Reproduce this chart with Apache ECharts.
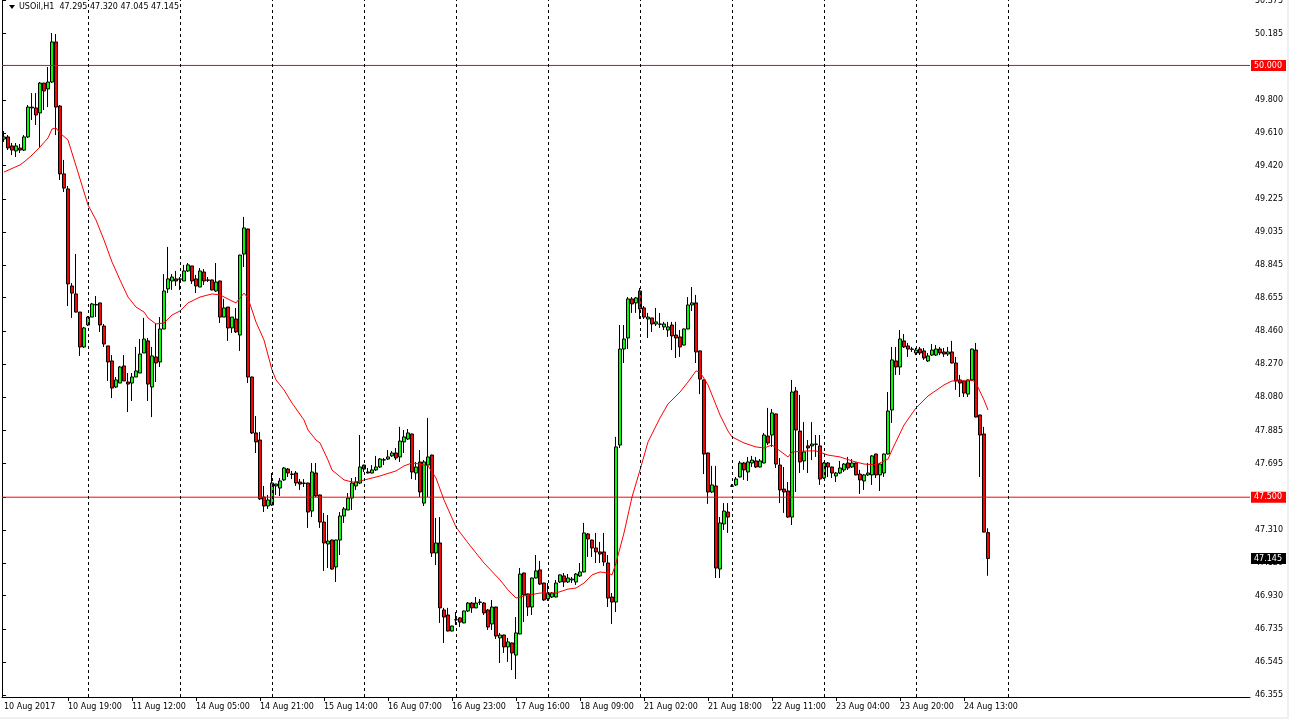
<!DOCTYPE html>
<html><head><meta charset="utf-8">
<script src="https://cdn.jsdelivr.net/npm/echarts@6/dist/echarts.min.js"></script>
<style>html,body{margin:0;padding:0;background:#fff;overflow:hidden}#c{width:1289px;height:719px}</style>
</head><body><div id="c"></div>
<script>
const symbolTitle = 'USOil,H1  47.295 47.320 47.045 47.145';
const opens = [49.574,49.586,49.534,49.505,49.522,49.510,49.586,49.754,49.754,49.725,49.898,49.864,49.904,50.136,49.765,49.372,49.285,48.723,48.677,48.572,48.370,48.497,48.543,48.613,48.625,48.491,48.376,48.289,48.138,48.161,48.260,48.167,48.161,48.196,48.219,48.335,48.405,48.138,48.312,48.283,48.474,48.706,48.752,48.764,48.764,48.752,48.810,48.839,48.764,48.717,48.804,48.758,48.758,48.694,48.752,48.543,48.601,48.480,48.532,48.439,48.908,49.053,48.196,47.872,47.831,47.501,47.449,47.455,47.565,47.553,47.600,47.663,47.634,47.640,47.588,47.582,47.582,47.420,47.640,47.513,47.356,47.229,47.252,47.096,47.252,47.391,47.426,47.495,47.565,47.582,47.686,47.646,47.640,47.658,47.675,47.715,47.721,47.739,47.756,47.733,47.820,47.837,47.866,47.640,47.704,47.466,47.686,47.744,47.177,47.235,46.847,46.818,46.725,46.789,46.801,46.772,46.841,46.887,46.859,46.893,46.887,46.847,46.766,46.864,46.685,46.702,46.633,46.656,46.586,46.708,47.061,46.940,46.864,47.032,47.079,47.003,46.911,46.922,46.922,47.009,47.044,47.009,47.021,47.009,47.044,47.067,47.287,47.252,47.206,47.183,47.183,47.119,46.922,46.893,47.802,48.358,48.422,48.648,48.625,48.694,48.596,48.532,48.538,48.503,48.503,48.486,48.468,48.497,48.439,48.428,48.381,48.474,48.613,48.625,48.347,48.179,47.756,47.530,47.565,47.084,47.345,47.414,47.565,47.571,47.617,47.698,47.646,47.698,47.710,47.675,47.698,47.854,47.860,47.982,47.686,47.547,47.536,47.385,48.115,47.883,47.710,47.797,47.797,47.808,47.797,47.611,47.698,47.675,47.623,47.640,47.658,47.698,47.675,47.698,47.634,47.594,47.629,47.629,47.750,47.629,47.640,47.750,48.005,48.289,48.254,48.405,48.376,48.358,48.335,48.358,48.347,48.289,48.323,48.323,48.358,48.341,48.329,48.341,48.277,48.179,48.173,48.097,48.179,48.352,47.976,47.866,47.295];
const closes = [49.586,49.522,49.510,49.534,49.510,49.586,49.759,49.759,49.713,49.898,49.852,49.904,50.136,49.759,49.372,49.290,48.735,48.682,48.572,48.370,48.480,48.543,48.619,48.616,48.497,48.387,48.283,48.132,48.179,48.254,48.173,48.155,48.196,48.231,48.329,48.416,48.155,48.318,48.277,48.474,48.694,48.764,48.775,48.752,48.762,48.810,48.845,48.752,48.723,48.810,48.752,48.756,48.700,48.746,48.543,48.596,48.480,48.543,48.457,48.902,49.059,48.196,47.872,47.820,47.490,47.449,47.484,47.582,47.576,47.594,47.669,47.640,47.632,47.582,47.576,47.580,47.414,47.646,47.507,47.356,47.235,47.246,47.084,47.252,47.391,47.432,47.495,47.582,47.588,47.675,47.663,47.640,47.658,47.675,47.721,47.717,47.733,47.756,47.727,47.825,47.849,47.872,47.646,47.675,47.530,47.704,47.733,47.177,47.235,46.859,46.806,46.725,46.754,46.791,46.777,46.841,46.887,46.859,46.887,46.891,46.830,46.748,46.864,46.696,46.702,46.633,46.662,46.598,46.714,47.055,46.934,46.864,47.032,47.073,46.997,46.905,46.945,46.945,47.003,47.050,47.009,47.032,47.026,47.055,47.067,47.293,47.258,47.206,47.183,47.171,47.125,46.916,46.893,47.791,48.358,48.416,48.648,48.619,48.654,48.590,48.543,48.543,48.503,48.515,48.501,48.503,48.486,48.434,48.422,48.370,48.474,48.613,48.625,48.341,48.184,47.750,47.530,47.571,47.090,47.351,47.420,47.385,47.563,47.605,47.698,47.658,47.704,47.715,47.675,47.710,47.860,47.814,47.988,47.692,47.542,47.530,47.385,48.109,47.889,47.704,47.762,47.785,47.808,47.806,47.605,47.698,47.675,47.640,47.640,47.669,47.692,47.669,47.698,47.629,47.600,47.629,47.640,47.739,47.629,47.692,47.750,47.999,48.295,48.254,48.416,48.370,48.358,48.356,48.352,48.335,48.306,48.318,48.352,48.358,48.335,48.329,48.341,48.277,48.173,48.161,48.103,48.179,48.358,47.964,47.860,47.298,47.145];
const highs = [49.620,49.597,49.551,49.551,49.545,49.597,49.771,49.840,49.840,49.904,49.898,49.991,50.188,50.182,49.771,49.453,49.302,48.740,48.908,48.572,48.486,48.549,48.625,48.665,48.625,48.503,48.376,48.323,48.196,48.260,48.323,48.219,48.219,48.370,48.416,48.538,48.422,48.370,48.509,48.543,48.792,48.949,48.792,48.810,48.775,48.845,48.856,48.839,48.787,48.827,48.821,48.775,48.760,48.856,48.754,48.648,48.601,48.543,48.596,48.904,49.123,49.055,48.198,47.970,47.878,47.565,47.513,47.640,47.578,47.611,47.675,47.669,47.652,47.652,47.605,47.605,47.584,47.698,47.698,47.515,47.409,47.397,47.254,47.254,47.414,47.443,47.524,47.611,47.617,47.860,47.688,47.669,47.686,47.739,47.727,47.727,47.773,47.767,47.785,47.907,47.889,47.895,47.868,47.704,47.773,47.715,47.959,47.746,47.380,47.385,46.859,46.859,46.756,46.835,46.806,46.843,46.893,46.893,46.922,46.911,46.893,46.853,46.905,46.866,46.714,46.704,46.685,46.658,46.806,47.090,47.063,46.942,47.034,47.165,47.131,47.005,47.003,46.951,47.021,47.052,47.061,47.055,47.038,47.061,47.119,47.351,47.293,47.254,47.293,47.241,47.293,47.165,46.945,47.849,48.497,48.497,48.659,48.659,48.659,48.711,48.607,48.567,48.538,48.596,48.567,48.515,48.515,48.515,48.515,48.468,48.476,48.659,48.717,48.671,48.349,48.181,47.758,47.681,47.681,47.385,47.466,47.466,47.576,47.617,47.710,47.704,47.733,47.739,47.733,47.721,47.872,48.017,48.011,47.984,47.727,47.675,47.588,48.179,48.138,48.092,47.935,47.831,47.935,47.860,47.860,47.704,47.704,47.677,47.646,47.710,47.698,47.733,47.721,47.700,47.658,47.634,47.698,47.744,47.752,47.698,47.752,48.109,48.370,48.370,48.468,48.445,48.393,48.370,48.364,48.370,48.364,48.335,48.387,48.381,48.370,48.364,48.370,48.405,48.312,48.208,48.175,48.181,48.360,48.393,47.978,47.907,47.320];
const lows = [49.557,49.510,49.481,49.470,49.493,49.505,49.580,49.684,49.655,49.528,49.742,49.759,49.898,49.597,49.337,49.267,48.607,48.538,48.570,48.318,48.364,48.491,48.543,48.543,48.457,48.370,48.173,48.074,48.132,48.161,48.173,47.993,48.057,48.196,48.219,48.335,48.057,47.964,48.167,48.254,48.474,48.682,48.700,48.723,48.700,48.752,48.804,48.735,48.682,48.717,48.729,48.746,48.698,48.688,48.509,48.543,48.405,48.451,48.451,48.347,48.833,48.161,47.866,47.756,47.484,47.414,47.432,47.449,47.513,47.507,47.594,47.617,47.605,47.565,47.542,47.559,47.322,47.385,47.501,47.322,47.073,47.090,47.080,47.009,47.165,47.351,47.426,47.426,47.542,47.576,47.646,47.638,47.638,47.652,47.669,47.686,47.715,47.733,47.715,47.704,47.756,47.831,47.605,47.600,47.501,47.449,47.501,47.154,47.107,46.772,46.656,46.723,46.723,46.760,46.748,46.770,46.835,46.830,46.857,46.876,46.818,46.731,46.731,46.679,46.540,46.598,46.546,46.499,46.447,46.706,46.777,46.812,46.818,47.030,46.992,46.899,46.899,46.916,46.920,47.003,46.980,47.003,47.003,46.992,47.038,47.065,47.154,47.154,47.119,47.119,47.102,46.864,46.766,46.835,47.785,48.277,48.358,48.567,48.567,48.532,48.532,48.422,48.457,48.491,48.480,48.468,48.428,48.352,48.306,48.312,48.379,48.472,48.578,48.277,48.097,47.634,47.461,47.524,47.032,47.032,47.310,47.293,47.559,47.565,47.615,47.600,47.594,47.675,47.669,47.673,47.696,47.802,47.791,47.669,47.466,47.409,47.380,47.339,47.530,47.640,47.658,47.640,47.715,47.733,47.571,47.605,47.617,47.611,47.588,47.634,47.646,47.658,47.669,47.627,47.519,47.542,47.623,47.571,47.611,47.536,47.617,47.748,47.930,48.208,48.208,48.364,48.312,48.341,48.323,48.323,48.295,48.283,48.318,48.318,48.323,48.312,48.318,48.275,48.121,48.080,48.080,48.080,48.173,47.962,47.617,47.296,47.045];
const maSlots = [0,4,5,7,9,11,12,13,14,16,17,19,21,23,25,27,29,31,33,35,36,38,40,42,44,46,49,52,54,57,58,59,60,61,63,65,67,68,70,72,75,76,78,79,81,82,85,87,88,91,94,98,100,102,104,106,108,110,113,116,120,124,126,128,130,134,138,141,143,145,147,149,151,152,153,155,157,159,161,164,166,169,171,173,174,176,177,179,181,182,185,188,190,192,194,196,197,201,203,206,209,212,215,218,221,222,225,228,231,235,237,241,242,243,245,246];
const maValues = [49.383,49.424,49.441,49.481,49.528,49.580,49.632,49.638,49.609,49.568,49.493,49.343,49.192,49.105,48.989,48.862,48.758,48.659,48.601,48.572,48.538,48.503,48.509,48.555,48.578,48.625,48.659,48.677,48.671,48.636,48.625,48.653,48.682,48.653,48.514,48.410,48.237,48.179,48.121,48.045,47.947,47.889,47.831,47.814,47.715,47.657,47.600,47.588,47.588,47.605,47.623,47.652,47.681,47.698,47.692,47.681,47.611,47.484,47.327,47.235,47.119,47.021,46.963,46.916,46.928,46.945,46.945,46.968,46.974,47.003,47.050,47.067,47.061,47.050,47.119,47.293,47.501,47.657,47.820,47.959,48.040,48.109,48.167,48.231,48.225,48.150,48.092,47.976,47.883,47.849,47.814,47.791,47.785,47.802,47.768,47.733,47.762,47.768,47.768,47.744,47.733,47.710,47.692,47.687,47.721,47.773,47.918,48.017,48.086,48.150,48.173,48.173,48.179,48.161,48.063,48.005];
const xLabelSlots = [0,16,32,48,64,80,96,112,128,144,160,176,192,208,224,240];
const xLabels = ['10 Aug 2017','10 Aug 19:00','11 Aug 12:00','14 Aug 05:00','14 Aug 21:00','15 Aug 14:00','16 Aug 07:00','16 Aug 23:00','17 Aug 16:00','18 Aug 09:00','21 Aug 02:00','21 Aug 18:00','22 Aug 11:00','23 Aug 04:00','23 Aug 20:00','24 Aug 13:00'];
const yTickLabels = ['50.375','50.185','50.000','49.800','49.610','49.420','49.225','49.035','48.845','48.655','48.460','48.270','48.080','47.885','47.695','47.500','47.310','47.120','46.930','46.735','46.545','46.355'];
const separatorSlots = [21,44,67,90,113,136,159,182,205,228,251];
const levelLines = [50.000, 47.500];
const lastPrice = 47.145;
const slotCount = 312;
const yMin = 46.343, yMax = 50.379;

const categories = [];
for (let i = 0; i < slotCount; i++) categories.push(String(i));
const candles = opens.map((o, i) => {
  const c = closes[i];
  return [o, c, Math.min(lows[i], o, c), Math.max(highs[i], o, c)];
});
const maData = maSlots.map((s, k) => [String(s), maValues[k]]);
const FONT = 'DejaVu Sans';
const lbl = {fontFamily: FONT, fontSize: 8, color: '#000'};
const boxLabel = (text, bg) => ({show: true, distance: 1, formatter: text, backgroundColor: bg, color: '#ffffff',
  fontFamily: FONT, fontSize: 8, padding: [2, 4, 1, 3], align: 'left', verticalAlign: 'middle'});

const levelSeries = levelLines.map(v => ({
  type: 'line', xAxisIndex: 1, data: [[0, v], [1, v]], silent: true, z: 4, symbol: 'none', showSymbol: false,
  lineStyle: {color: '#ff0000', width: 1, type: 'solid'}, endLabel: boxLabel(v.toFixed(3), '#ff0000')
}));
const lastSeries = {
  type: 'line', xAxisIndex: 1, data: [[0, lastPrice], [1, lastPrice]], silent: true, z: 5, symbol: 'none', showSymbol: false,
  lineStyle: {color: 'rgba(0,0,0,0)', width: 1}, endLabel: boxLabel(lastPrice.toFixed(3), '#000000')
};

const chart = echarts.init(document.getElementById('c'), null, {renderer: 'canvas'});
chart.setOption({
  animation: false,
  backgroundColor: '#fff',
  grid: {left: 2, right: 39, top: 0, bottom: 22, containLabel: false, outerBoundsMode: 'none'},
  xAxis: [{
    type: 'category', data: categories, boundaryGap: true,
    axisLine: {show: true, lineStyle: {color: '#000', width: 1}},
    axisTick: {show: true, alignWithLabel: true, length: 4, lineStyle: {color: '#000'}, interval: (i) => xLabelSlots.indexOf(i) > 0},
    axisLabel: {show: true, interval: (i) => xLabelSlots.indexOf(i) >= 0, formatter: (v, i) => xLabels[xLabelSlots.indexOf(i)] || '',
      align: 'left', margin: 6, ...lbl},
    splitLine: {show: false}
  }, {
    type: 'value', min: 0, max: 1, show: false
  }],
  yAxis: [{
    type: 'value', position: 'right', min: yMin, max: yMax,
    axisLine: {show: true, lineStyle: {color: '#000', width: 1}},
    axisTick: {show: true, length: 4, inside: false, lineStyle: {color: '#000'}, customValues: yTickLabels.map(Number)},
    axisLabel: {show: true, margin: 5, padding: [3, 0, 0, 0], customValues: yTickLabels.map(Number), formatter: (v) => Number(v).toFixed(3), ...lbl},
    splitLine: {show: false}
  }, {
    type: 'value', position: 'left', min: yMin, max: yMax,
    axisLine: {show: true, lineStyle: {color: '#000', width: 1}},
    axisTick: {show: false}, axisLabel: {show: false}, splitLine: {show: false}
  }],
  series: [{
    name: 'separators', type: 'line', data: [], silent: true, z: 1,
    markLine: {silent: true, symbol: ['none', 'none'], animation: false,
      lineStyle: {color: '#000', type: [3, 3], width: 1}, label: {show: false},
      data: separatorSlots.map(s => ({xAxis: String(s)}))}
  }, {
    type: 'candlestick', data: candles, barWidth: 3, silent: true, z: 2,
    itemStyle: {color: '#00ff00', color0: '#ff0000', borderColor: '#000', borderColor0: '#000', borderColorDoji: '#000', borderWidth: 1}
  }, ...levelSeries, lastSeries, {
    name: 'ma', type: 'line', data: maData, showSymbol: false, symbol: 'none', silent: true, z: 3,
    lineStyle: {color: '#ff0000', width: 1}
  }],
  graphic: [
    {type: 'polygon', shape: {points: [[9, 5], [15, 5], [12, 9]]}, style: {fill: '#000'}, silent: true},
    {type: 'text', x: 19, y: 7, style: {text: symbolTitle, font: '8px "DejaVu Sans"', fill: '#000', verticalAlign: 'middle'}, silent: true},
    {type: 'rect', shape: {x: 1287, y: 0, width: 2, height: 719}, style: {fill: '#f0f0f0'}, silent: true},
    {type: 'rect', shape: {x: 0, y: 717, width: 1289, height: 2}, style: {fill: '#f0f0f0'}, silent: true}
  ]
});
</script></body></html>
